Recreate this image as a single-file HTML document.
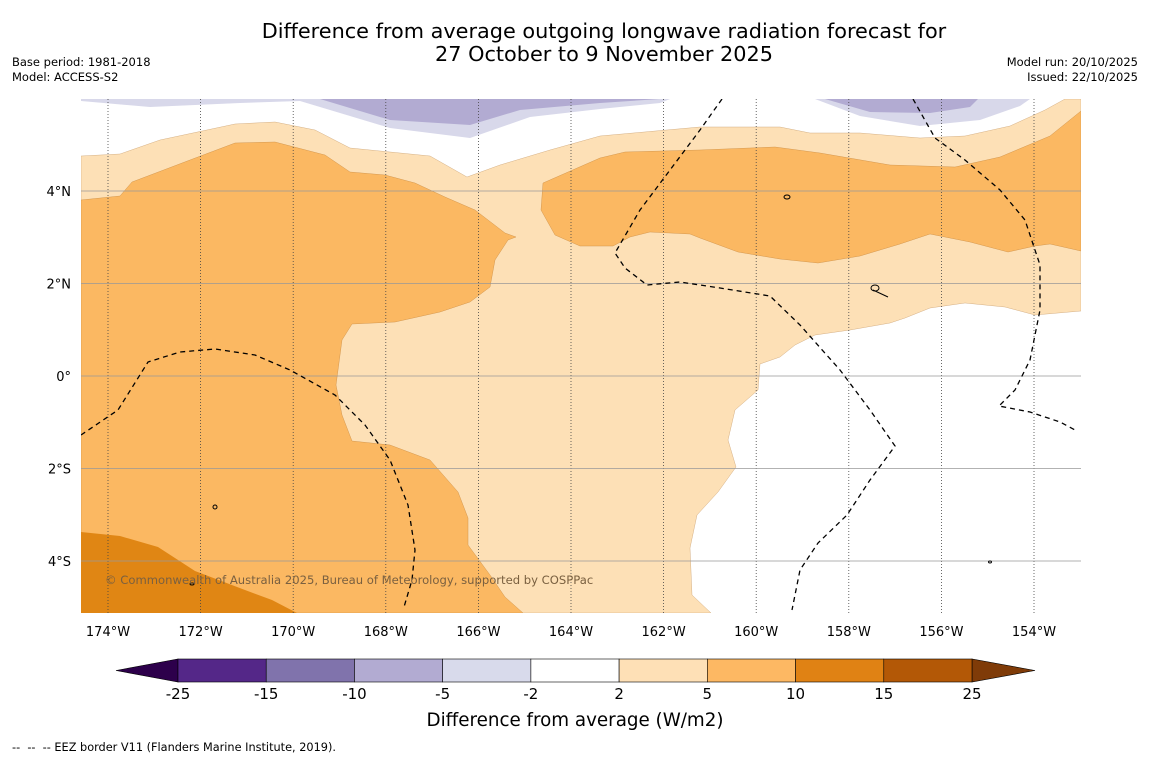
<!DOCTYPE html>
<html><head><meta charset="utf-8">
<style>
body{margin:0;background:#fff;width:1150px;height:758px;overflow:hidden;font-family:"Liberation Sans",sans-serif;}
svg text{font-family:"DejaVu Sans","Liberation Sans",sans-serif;}
</style></head>
<body>
<svg width="1150" height="758" viewBox="0 0 1150 758">
<rect width="1150" height="758" fill="#fff"/>
<text x="604" y="38" text-anchor="middle" font-size="20.8">Difference from average outgoing longwave radiation forecast for</text>
<text x="604" y="61" text-anchor="middle" font-size="20.8">27 October to 9 November 2025</text>
<text x="12" y="66" font-size="11.5">Base period: 1981-2018</text>
<text x="12" y="81" font-size="11.5">Model: ACCESS-S2</text>
<text x="1138" y="66" font-size="11.5" text-anchor="end">Model run: 20/10/2025</text>
<text x="1138" y="81" font-size="11.5" text-anchor="end">Issued: 22/10/2025</text>

<defs><clipPath id="mc"><rect x="81" y="99" width="1000" height="514"/></clipPath></defs>
<g clip-path="url(#mc)">
<rect x="81" y="99" width="1000" height="514" fill="#fff"/>
<path fill="#d8d8ea" d="M81,99 L81,101 L150,107 L240,103 L300,101 L330,110 L390,128 L470,138 L530,117 L600,109 L660,103 L670,99 Z"/>
<path fill="#b2abd2" d="M320,99 L390,120 L470,125 L520,110 L600,103 L660,99 Z"/>
<path fill="#d8d8ea" d="M815,99 L860,116 L920,126 L980,120 L1020,106 L1030,99 Z"/>
<path fill="#b2abd2" d="M825,99 L870,112 L930,113 L970,107 L978,99 Z"/>
<path fill="#fde0b6" stroke="#c9a070" stroke-width="0.4" d="M81,156 L120,154 L160,140 L235,124 L275,122 L315,130 L350,148 L430,156 L467,177 L500,165 L550,150 L600,136 L700,127 L780,127 L810,133 L860,133 L920,138 L965,136 L1010,126 L1045,110 L1065,99 L1081,99 L1081,311 L1035,315 L1005,307 L965,303 L930,308 L905,318 L890,323 L850,330 L815,335 L795,345 L780,357 L760,364 L758,390 L735,410 L728,440 L736,467 L718,492 L697,515 L690,548 L692,595 L711,613 L81,613 Z"/>
<path fill="#fbb862" stroke="#c98a40" stroke-width="0.4" d="M81,200 L120,196 L132,182 L190,160 L235,143 L275,142 L325,155 L350,172 L385,175 L415,183 L445,197 L475,210 L505,233 L516,237 L508,240 L495,260 L490,287 L470,302 L440,312 L395,322 L352,324 L342,340 L336,385 L342,415 L352,441 L390,445 L430,460 L458,492 L468,518 L468,545 L490,575 L505,597 L523,613 L81,613 Z"/>
<path fill="#fbb862" stroke="#c98a40" stroke-width="0.4" d="M543,183 L600,158 L625,152 L700,150 L775,147 L820,153 L890,165 L955,167 L1000,157 L1050,136 L1081,111 L1081,251 L1050,244 L1035,246 L1008,252 L970,242 L930,234 L900,244 L860,256 L818,263 L780,259 L738,252 L700,238 L690,234 L650,232 L630,237 L613,246 L580,246 L555,235 L541,210 Z"/>
<path fill="#e08614" d="M81,532 L120,536 L158,547 L195,571 L245,590 L272,600 L297,613 L81,613 Z"/>
<g id="grid"></g>
<g fill="none" stroke="#000" stroke-width="1.3" stroke-dasharray="5,4">
<path d="M81,435 L118,410 L148,362 L180,352 L215,349 L255,355 L290,370 L335,395 L365,425 L390,460 L408,505 L415,550 L412,580 L404,607"/>
<path d="M722,99 L700,130 L670,170 L640,210 L615,253 L625,268 L647,285 L680,282 L720,288 L770,296 L800,325 L840,370 L870,410 L895,446 L870,480 L847,515 L818,543 L800,570 L792,610"/>
<path d="M913,99 L935,138 L965,160 L1000,190 L1025,220 L1040,265 L1040,310 L1030,360 L1015,390 L999,406 L1030,412 L1060,422 L1077,431"/>
</g>
<g fill="none" stroke="#000" stroke-width="1">
<ellipse cx="787" cy="197" rx="3" ry="2"/><ellipse cx="875" cy="288" rx="4" ry="3"/><path d="M873,290 L888,297"/>
<ellipse cx="215" cy="507" rx="2" ry="2"/><ellipse cx="192" cy="584" rx="2" ry="1"/><ellipse cx="990" cy="562" rx="1.5" ry="1"/>
</g>
<text x="105" y="584" font-size="11.6" fill="#7a6040">© Commonwealth of Australia 2025, Bureau of Meteorology, supported by COSPPac</text>
</g>
<g id="axes"></g>
<g id="cbar"></g>
<text x="575" y="726" text-anchor="middle" font-size="18.3">Difference from average (W/m2)</text>
<text x="12" y="751" font-size="11.3" style="white-space:pre" xml:space="preserve">--  --  -- EEZ border V11 (Flanders Marine Institute, 2019).</text>
</svg>
<script>
const lonTicks=[-174,-172,-170,-168,-166,-164,-162,-160,-158,-156,-154];
const latTicks=[4,2,0,-2,-4];
const cbLevels=[-25,-15,-10,-5,-2,2,5,10,15,25];
const cbColors=["#542788","#8073ac","#b2abd2","#d8daeb","#ffffff","#fee0b6","#fdb863","#e08214","#b35806"];
const NS="http://www.w3.org/2000/svg";
const xOf=lon=>108+(lon+174)*46.3;
const yOf=lat=>376-lat*46.25;
function mk(t,a,p){const e=document.createElementNS(NS,t);for(const k in a)e.setAttribute(k,a[k]);p.appendChild(e);return e;}
const grid=document.getElementById('grid'),axes=document.getElementById('axes'),cbar=document.getElementById('cbar');
lonTicks.forEach(l=>{const x=xOf(l);
 const g=mk('line',{x1:x,x2:x,y1:99,y2:613,stroke:'#444','stroke-width':0.8,'stroke-dasharray':'1,2'},grid);
 
 
 const t=mk('text',{x:x,y:636,'text-anchor':'middle','font-size':13},axes);t.textContent=Math.abs(l)+'°W';
 
 
});
latTicks.forEach(l=>{const y=yOf(l);
 const g=mk('line',{x1:81,x2:1081,y1:y,y2:y,stroke:'#999','stroke-width':0.7},grid);
 
 
 const t=mk('text',{x:71,y:y+5,'text-anchor':'end','font-size':13},axes);t.textContent=l===0?'0°':Math.abs(l)+'°'+(l>0?'N':'S');
 
 
});
const cx0=178,cx1=972,cy0=659,cy1=682,seg=(cx1-cx0)/cbColors.length;
const le=mk('polygon',{points:`116,${(cy0+cy1)/2} ${cx0},${cy0} ${cx0},${cy1}`,fill:'#2d004b',stroke:'#000','stroke-width':0.6},cbar);


const re=mk('polygon',{points:`1035,${(cy0+cy1)/2} ${cx1},${cy0} ${cx1},${cy1}`,fill:'#7f3b08',stroke:'#000','stroke-width':0.6},cbar);


cbColors.forEach((c,i)=>{const r=mk('rect',{x:cx0+i*seg,y:cy0,width:seg,height:cy1-cy0,fill:c,stroke:'#000','stroke-width':0.6},cbar);
 
 });
cbLevels.forEach((v,i)=>{const t=mk('text',{x:cx0+i*seg,y:699,'text-anchor':'middle','font-size':15},cbar);t.textContent=v;
 
 });
</script>
</body></html>
